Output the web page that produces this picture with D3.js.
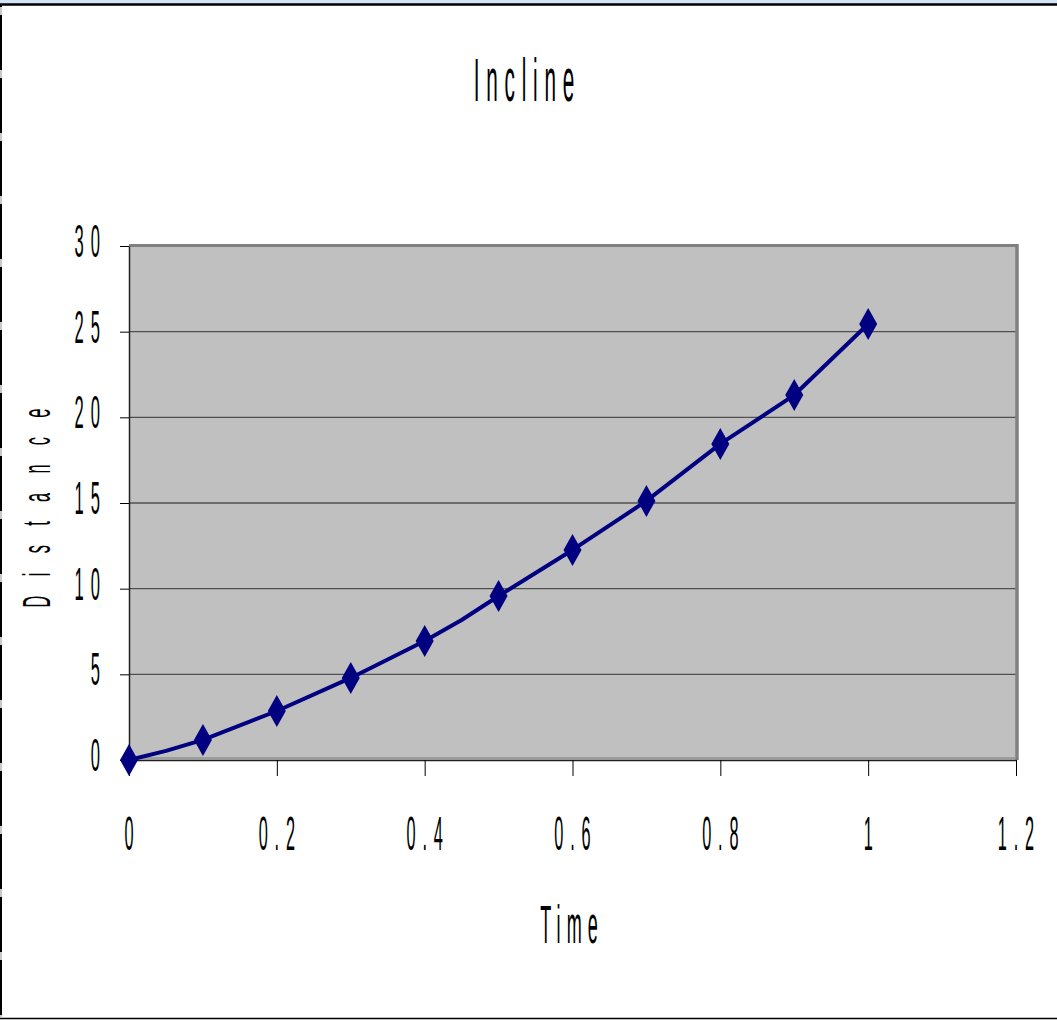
<!DOCTYPE html>
<html><head><meta charset="utf-8">
<script src="https://cdn.jsdelivr.net/npm/d3@7"></script>
<style>html,body{margin:0;padding:0;background:#fff;overflow:hidden}</style>
</head><body>
<svg id="c" width="1057" height="1020"></svg>
<script>
// ---- data ----
const title = "Incline";
const xTitle = "Time";
const yTitle = "Distance";
const markerTimes = [0, 0.1, 0.2, 0.3, 0.4, 0.5, 0.6, 0.7, 0.8, 0.9, 1.0];
const markerDistances = [0, 1.17, 2.86, 4.79, 6.95, 9.57, 12.26, 15.12, 18.45, 21.3, 25.45];
// line vertices (the line has extra bends between some markers)
const lineTimes = [0, 0.05, 0.1, 0.2, 0.3, 0.4, 0.45, 0.5, 0.6, 0.7, 0.8, 0.9, 1.0];
const lineDistances = [0, 0.53, 1.17, 2.86, 4.79, 6.95, 8.17, 9.57, 12.26, 15.12, 18.45, 21.3, 25.45];
const xTicks = [0, 0.2, 0.4, 0.6, 0.8, 1, 1.2];
const xTickLabels = ["0", "0.2", "0.4", "0.6", "0.8", "1", "1.2"];
const yTicks = [0, 5, 10, 15, 20, 25, 30];
const yTickLabels = ["0", "5", "10", "15", "20", "25", "30"];

const svg = d3.select("#c");
const FONT = "'Liberation Sans', Arial, sans-serif";

// frame
svg.append("rect").attr("x",0).attr("y",0).attr("width",1057).attr("height",4).attr("fill","#d4e4f4");
svg.append("line").attr("x1",0).attr("x2",1057).attr("y1",4.5).attr("y2",4.5).attr("stroke","#000").attr("stroke-width",2.5);
svg.append("line").attr("x1",0).attr("x2",1057).attr("y1",1018.5).attr("y2",1018.5).attr("stroke","#000").attr("stroke-width",1.5);
svg.append("line").attr("x1",1).attr("x2",1).attr("y1",5).attr("y2",1018).attr("stroke","#c8c8c8").attr("stroke-width",2);
svg.append("line").attr("x1",1).attr("x2",1).attr("y1",5).attr("y2",1018).attr("stroke","#000").attr("stroke-width",2)
  .attr("stroke-dasharray","55,8").attr("stroke-dashoffset",-10);

const x = d3.scaleLinear().domain([0,1.2]).range([129,1016]);
const y = d3.scaleLinear().domain([0,30]).range([760,246]);

// plot area
svg.append("rect").attr("x",x(0)).attr("y",y(30)).attr("width",x(1.2)-x(0)).attr("height",y(0)-y(30)).attr("fill","#c0c0c0");

// gridlines
svg.append("g").selectAll("line").data(yTicks.filter(d=>d>0 && d<30)).join("line")
  .attr("x1",x(0)).attr("x2",x(1.2)).attr("y1",d=>y(d)).attr("y2",d=>y(d))
  .attr("stroke","#505050").attr("stroke-width",1.3);

// plot border (top/right gray)
svg.append("line").attr("x1",x(0)).attr("x2",x(1.2)+2).attr("y1",y(30)-0.5).attr("y2",y(30)-0.5).attr("stroke","#808080").attr("stroke-width",3);
svg.append("line").attr("x1",x(1.2)+1).attr("x2",x(1.2)+1).attr("y1",y(30)-2).attr("y2",y(0)).attr("stroke","#808080").attr("stroke-width",3.5);

// axes via d3
const yAxis = d3.axisLeft(y).tickValues(yTicks).tickFormat("").tickSize(9).tickSizeOuter(0);
const gy = svg.append("g").attr("transform",`translate(${x(0)},0)`).call(yAxis);
gy.select(".domain").attr("stroke","#202020").attr("stroke-width",1.5);
gy.selectAll(".tick line").attr("stroke","#000");

const xAxis = d3.axisBottom(x).tickValues(xTicks).tickFormat("").tickSize(16).tickSizeOuter(0);
const gx = svg.append("g").attr("transform",`translate(0,${y(0)})`).call(xAxis);
gx.select(".domain").attr("stroke","#202020").attr("stroke-width",1.5);
gx.selectAll(".tick line").attr("stroke","#000");
svg.append("line").attr("x1",x(0)).attr("x2",x(1.2)).attr("y1",y(0)-2).attr("y2",y(0)-2).attr("stroke","#909090").attr("stroke-width",1.5);

// condensed text helper
function ctext(px, py, str, size, sx, ls, anchor, rotate){
  const g = svg.append("g").attr("transform",`translate(${px},${py})${rotate?` rotate(${rotate})`:""} scale(${sx},1)`);
  const t = g.append("text").attr("x",0).attr("y",0)
    .attr("font-family",FONT).attr("font-size",size).attr("fill","#000")
    .attr("letter-spacing",ls).text(str);
  const w = t.node().getComputedTextLength();
  const trail = ls;
  let off = 0;
  if(anchor==="middle") off = -(w - trail)/2;
  else if(anchor==="end") off = -(w - trail);
  t.attr("x",off);
  return t;
}

// tick labels
yTicks.forEach((v,i)=>{ ctext(100, y(v)+11, yTickLabels[i], 46, 0.36, 20, "end"); });
xTicks.forEach((v,i)=>{ ctext(x(v), 850, xTickLabels[i], 48, 0.34, 20, "middle"); });

// titles
ctext(524, 101, title, 61, 0.34, 20, "middle");
ctext(569, 943, xTitle, 53, 0.34, 18, "middle");
ctext(50, 508, yTitle, 39, 0.42, 46, "middle", -90);

// series line
const pts = lineTimes.map((t,i)=>[t, lineDistances[i]]);
svg.append("path").datum(pts)
  .attr("d", d3.line().x(d=>x(d[0])).y(d=>y(d[1])))
  .attr("fill","none").attr("stroke","#000080").attr("stroke-width",4).attr("stroke-linejoin","round");

// markers
svg.append("g").selectAll("path").data(markerTimes.map((t,i)=>[t, markerDistances[i]])).join("path")
  .attr("transform", d=>`translate(${x(d[0])},${y(d[1])})`)
  .attr("d","M0,-16L9,0L0,16L-9,0Z").attr("fill","#000080");
</script>
</body></html>
